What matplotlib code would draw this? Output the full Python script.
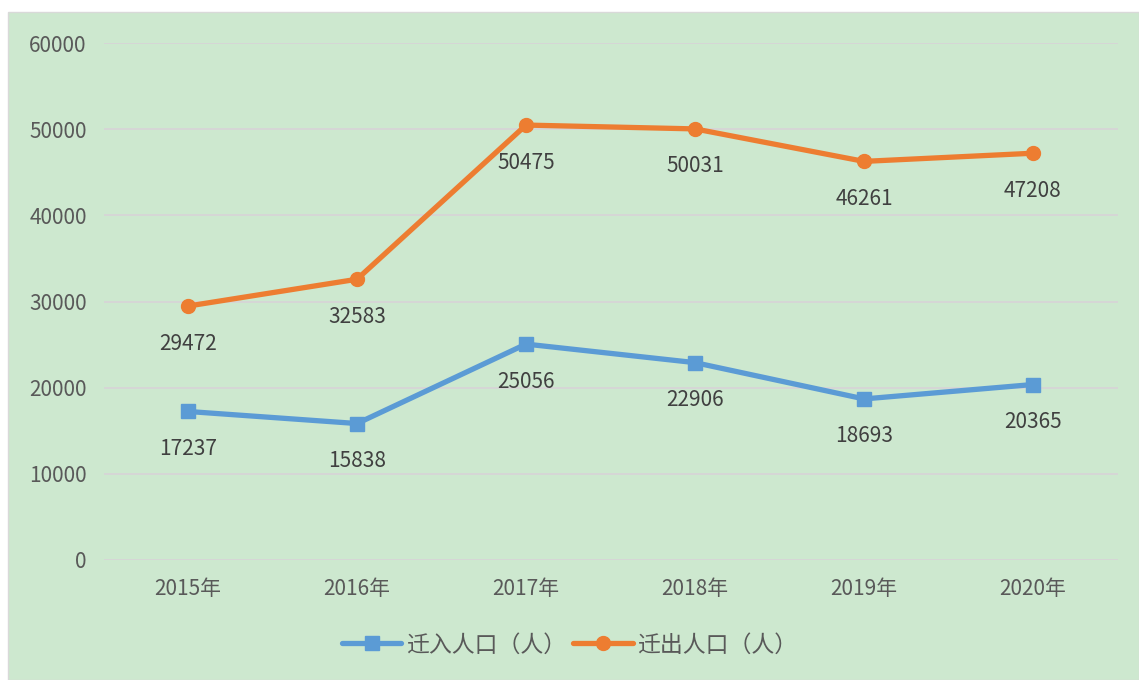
import matplotlib.pyplot as plt
from matplotlib.patches import Rectangle

plt.rcParams['font.family'] = ['Noto Sans CJK SC', 'DejaVu Sans']

years = ['2015年', '2016年', '2017年', '2018年', '2019年', '2020年']
moved_in = [17237, 15838, 25056, 22906, 18693, 20365]
moved_out = [29472, 32583, 50475, 50031, 46261, 47208]
y_ticks = [0, 10000, 20000, 30000, 40000, 50000, 60000]

bg = '#cde8cf'
blue = '#5b9bd5'
orange = '#ed7d31'

fig = plt.figure(figsize=(11.39, 6.80), dpi=100)
fig.patches.append(Rectangle((8 / 1139, 0), 1 - 8 / 1139, 668 / 680,
                             transform=fig.transFigure, facecolor=bg,
                             edgecolor='#d9d9d9', linewidth=1, zorder=-10))

ax = fig.add_axes([103.5 / 1139, 120 / 680, 1014 / 1139, 517 / 680])
ax.set_facecolor('none')
x = list(range(len(years)))

ax.plot(x, moved_in, color=blue, lw=3.8, marker='s', ms=10,
        label='迁入人口（人）', solid_joinstyle='round', solid_capstyle='round')
ax.plot(x, moved_out, color=orange, lw=3.8, marker='o', ms=10,
        label='迁出人口（人）', solid_joinstyle='round', solid_capstyle='round')

for xi, v in zip(x, moved_in):
    ax.annotate(str(v), (xi, v), xytext=(0, -27), textcoords='offset points',
                ha='center', va='center', fontsize=15, color='#404040')
for xi, v in zip(x, moved_out):
    ax.annotate(str(v), (xi, v), xytext=(0, -27), textcoords='offset points',
                ha='center', va='center', fontsize=15, color='#404040')

ax.set_xlim(-0.5, 5.5)
ax.set_ylim(0, 60000)
ax.set_yticks(y_ticks)
ax.set_yticklabels([str(t) for t in y_ticks])
ax.set_xticks(x)
ax.set_xticklabels(years)
ax.grid(axis='y', color='#d6d6d6', lw=1.4)
ax.set_axisbelow(True)
for s in ax.spines.values():
    s.set_visible(False)
ax.tick_params(axis='both', length=0, labelsize=15, labelcolor='#595959')
ax.tick_params(axis='y', pad=12)
ax.tick_params(axis='x', pad=13)

fig.legend(loc='center', bbox_to_anchor=(0.5, 35 / 680), ncol=2, frameon=False,
           fontsize=16.5, labelcolor='#595959', handlelength=2.6,
           handletextpad=0.2, columnspacing=0.3)

fig.savefig('out.png', dpi=100)
